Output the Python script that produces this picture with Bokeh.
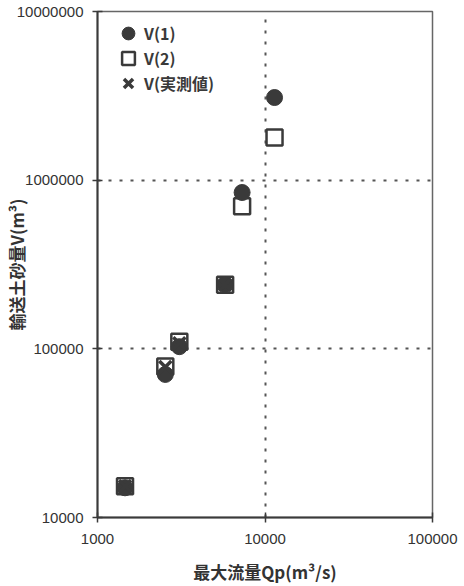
from bokeh.plotting import figure
from bokeh.models import FixedTicker, Legend, LegendItem
from bokeh.embed import file_html
from bokeh.resources import INLINE

# Data
qp = [1460, 2540, 3080, 5780, 7300, 11400]
v1 = [15000, 70500, 103000, 240000, 845000, 3090000]
v2 = [15300, 78500, 110000, 240000, 700000, 1790000]
qp_obs = [1460, 2540, 3080, 5780]
v_obs = [15300, 78000, 108000, 240000]
series_labels = ["V(1)", "V(2)", "V(実測値)"]

x_ticks = [1000, 10000, 100000]
y_ticks = [10000, 100000, 1000000, 10000000]
x_tick_labels = ["1000", "10000", "100000"]
y_tick_labels = ["10000", "100000", "1000000", "10000000"]

p = figure(width=464, height=586, x_axis_type="log", y_axis_type="log",
           x_range=(1000, 100000), y_range=(10000, 10000000),
           output_backend="svg", toolbar_location=None,
           min_border_left=96, min_border_right=32, min_border_top=11, min_border_bottom=69)

dark = "#3a3a3a"
r2 = p.scatter(qp, v2, marker="square", size=16, fill_color="white",
               line_color=dark, line_width=2.5)
r1 = p.scatter(qp, v1, marker="circle", size=16, fill_color=dark, line_color=dark)
r3 = p.scatter(qp_obs, v_obs, marker="x", size=17, line_color=dark, line_width=3.5)

legend_pos = [(15, 468), (15, 443), (15, 418)]
for lab, rend, loc in zip(series_labels, [r1, r2, r3], legend_pos):
    lg = Legend(items=[LegendItem(label=lab, renderers=[rend])], location=loc)
    lg.border_line_color = None
    lg.background_fill_alpha = 0.0
    lg.label_text_font = "Noto Sans CJK JP"
    lg.label_text_font_style = "bold"
    lg.label_text_font_size = "16px"
    lg.label_text_color = dark
    lg.glyph_width = 32
    lg.glyph_height = 32
    lg.label_standoff = 0
    lg.margin = 0
    lg.padding = 0
    p.add_layout(lg)

for ax in (p.xaxis, p.yaxis):
    ax.major_label_text_font = "Liberation Sans"
    ax.major_label_text_font_size = "15px"
    ax.major_label_text_color = "#333333"
    ax.axis_line_color = dark
    ax.axis_line_width = 2
    ax.major_tick_line_color = dark
    ax.major_tick_line_width = 1.5
    ax.major_tick_in = 5
    ax.major_tick_out = 5
    ax.minor_tick_line_color = None
    ax.axis_label_text_font = "Noto Sans CJK JP"
    ax.axis_label_text_font_style = "bold"
    ax.axis_label_text_font_size = "17px"
    ax.axis_label_text_color = "#333333"

p.xaxis.ticker = FixedTicker(ticks=x_ticks)
p.yaxis.ticker = FixedTicker(ticks=y_ticks)
p.xaxis.major_label_overrides = {t: l for t, l in zip(x_ticks, x_tick_labels)}
p.yaxis.major_label_overrides = {t: l for t, l in zip(y_ticks, y_tick_labels)}
p.xaxis.major_label_standoff = 11
p.yaxis.major_label_standoff = 9
p.xaxis.axis_label = "最大流量Qp(m³/s)"
p.yaxis.axis_label = "輸送土砂量V(m³)"
p.xaxis.axis_label_standoff = 12
p.yaxis.axis_label_standoff = -15

p.xgrid.ticker = FixedTicker(ticks=[10000])
p.ygrid.ticker = FixedTicker(ticks=[100000, 1000000])
for g in (p.xgrid, p.ygrid):
    g.grid_line_color = "#555555"
    g.grid_line_dash = "3 8"
    g.grid_line_width = 2

p.outline_line_color = "#666666"
p.outline_line_width = 1.5
p.background_fill_color = "white"

open("out.html", "w").write(file_html(p, INLINE))
